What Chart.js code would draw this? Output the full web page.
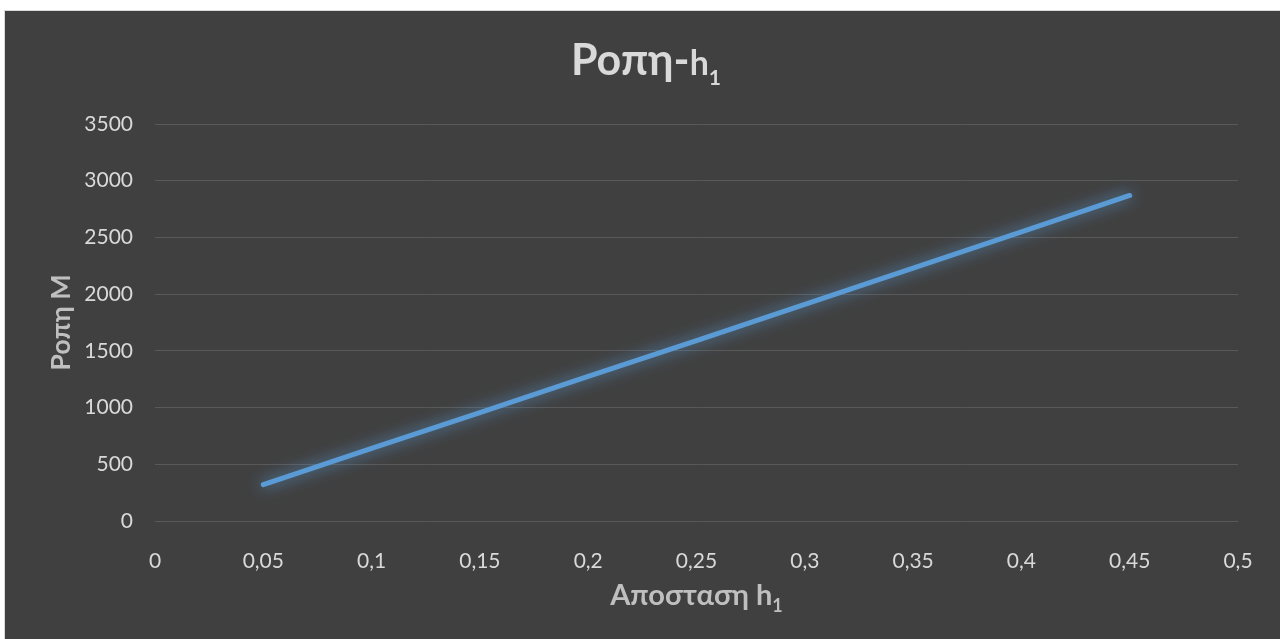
<!DOCTYPE html>
<html>
<head>
<meta charset="utf-8">
<script src="https://cdn.jsdelivr.net/npm/chart.js@4/dist/chart.umd.min.js"></script>
<style>
  html, body { margin: 0; padding: 0; background: #ffffff; }
  #wrap { width: 1280px; height: 639px; position: relative; }
</style>
</head>
<body>
<div id="wrap"><canvas id="c" width="1280" height="639"></canvas></div>
<script>
// Distance h1 (m) and the resulting moment M
const distanceH1 = [0.05, 0.10, 0.15, 0.20, 0.25, 0.30, 0.35, 0.40, 0.45];
const momentM = [320, 640, 955, 1275, 1590, 1910, 2230, 2550, 2870];

// Axis tick labels (decimal comma)
const xTickLabels = ['0', '0,05', '0,1', '0,15', '0,2', '0,25', '0,3', '0,35', '0,4', '0,45', '0,5'];
const yTickLabels = ['0', '500', '1000', '1500', '2000', '2500', '3000', '3500'];

// Title texts, split into normal part and subscript
const chartTitle = { main: 'Ροπη-', sub1: 'h', sub2: '1' };
const xTitle = { main: 'Αποσταση h', sub: '1' };
const yTitle = 'Ροπη Μ';

const FONT = "Lato, 'DejaVu Sans', sans-serif";
const panelBg = '#404040';

// Dark panel behind the chart
const panelPlugin = {
  id: 'panel',
  beforeDraw(chart) {
    const ctx = chart.ctx;
    ctx.save();
    ctx.fillStyle = '#d9d9d9';
    ctx.fillRect(4, 10, chart.width - 4, chart.height - 10);
    ctx.fillStyle = panelBg;
    ctx.fillRect(5, 11, chart.width - 5, chart.height - 11);
    ctx.restore();
  }
};

// Soft glow around the series line
const glowPlugin = {
  id: 'glow',
  beforeDatasetsDraw(chart) {
    const ctx = chart.ctx;
    ctx.save();
    ctx.shadowColor = 'rgba(91,155,213,0.95)';
    ctx.shadowBlur = 15;
  },
  afterDatasetsDraw(chart) {
    chart.ctx.restore();
  }
};

// Draws a sequence of text runs centred on cx, sharing one baseline
function drawRuns(ctx, runs, cx, baseline) {
  let total = 0;
  runs.forEach(r => { ctx.font = r.font; r.w = ctx.measureText(r.text).width; total += r.w; });
  let x = cx - total / 2;
  ctx.textAlign = 'left';
  ctx.textBaseline = 'alphabetic';
  runs.forEach(r => {
    ctx.font = r.font;
    ctx.fillStyle = r.color;
    ctx.fillText(r.text, x, baseline + (r.dy || 0));
    x += r.w;
  });
}

// Chart title and axis titles with subscripts
const titlesPlugin = {
  id: 'titles',
  afterDraw(chart) {
    const ctx = chart.ctx;
    const area = chart.chartArea;
    ctx.save();
    drawRuns(ctx, [
      { text: chartTitle.main, font: 'bold 43px ' + FONT, color: '#d9d9d9' },
      { text: chartTitle.sub1, font: 'bold 34px ' + FONT, color: '#d9d9d9' },
      { text: chartTitle.sub2, font: 'bold 21px ' + FONT, color: '#d9d9d9', dy: 10 }
    ], 646, 75);

    drawRuns(ctx, [
      { text: xTitle.main, font: 'bold 29px ' + FONT, color: '#bfbfbf' },
      { text: xTitle.sub, font: 'bold 18px ' + FONT, color: '#bfbfbf', dy: 7 }
    ], (area.left + area.right) / 2, 605);

    ctx.translate(70, (area.top + area.bottom) / 2);
    ctx.rotate(-Math.PI / 2);
    drawRuns(ctx, [
      { text: yTitle, font: 'bold 27px ' + FONT, color: '#bfbfbf' }
    ], 0, 0);
    ctx.restore();
  }
};

const points = distanceH1.map((h, i) => ({ x: h, y: momentM[i] }));

new Chart(document.getElementById('c'), {
  type: 'line',
  data: {
    datasets: [{
      data: points,
      borderColor: '#5b9bd5',
      borderWidth: 5,
      borderCapStyle: 'round',
      borderJoinStyle: 'round',
      pointRadius: 0,
      pointHoverRadius: 0,
      fill: false,
      tension: 0
    }]
  },
  options: {
    responsive: false,
    animation: false,
    devicePixelRatio: 1,
    layout: { padding: { top: 124, right: 42, left: 0, bottom: 0 } },
    plugins: {
      legend: { display: false },
      title: { display: false },
      tooltip: { enabled: false }
    },
    scales: {
      x: {
        type: 'linear',
        min: 0,
        max: 0.5,
        grid: { display: false },
        border: { display: false },
        ticks: {
          stepSize: 0.05,
          color: '#d9d9d9',
          font: { family: FONT, size: 21 },
          padding: 20,
          maxRotation: 0,
          autoSkip: false,
          callback: (v, i) => xTickLabels[i]
        },
        afterFit: s => { s.height = 118; }
      },
      y: {
        min: 0,
        max: 3500,
        grid: { color: '#595959', lineWidth: 1, drawTicks: false },
        border: { display: false },
        ticks: {
          stepSize: 500,
          color: '#d9d9d9',
          font: { family: FONT, size: 21 },
          padding: 22,
          callback: (v, i) => yTickLabels[i]
        },
        afterFit: s => { s.width = 155; }
      }
    }
  },
  plugins: [panelPlugin, glowPlugin, titlesPlugin]
});
</script>
</body>
</html>
